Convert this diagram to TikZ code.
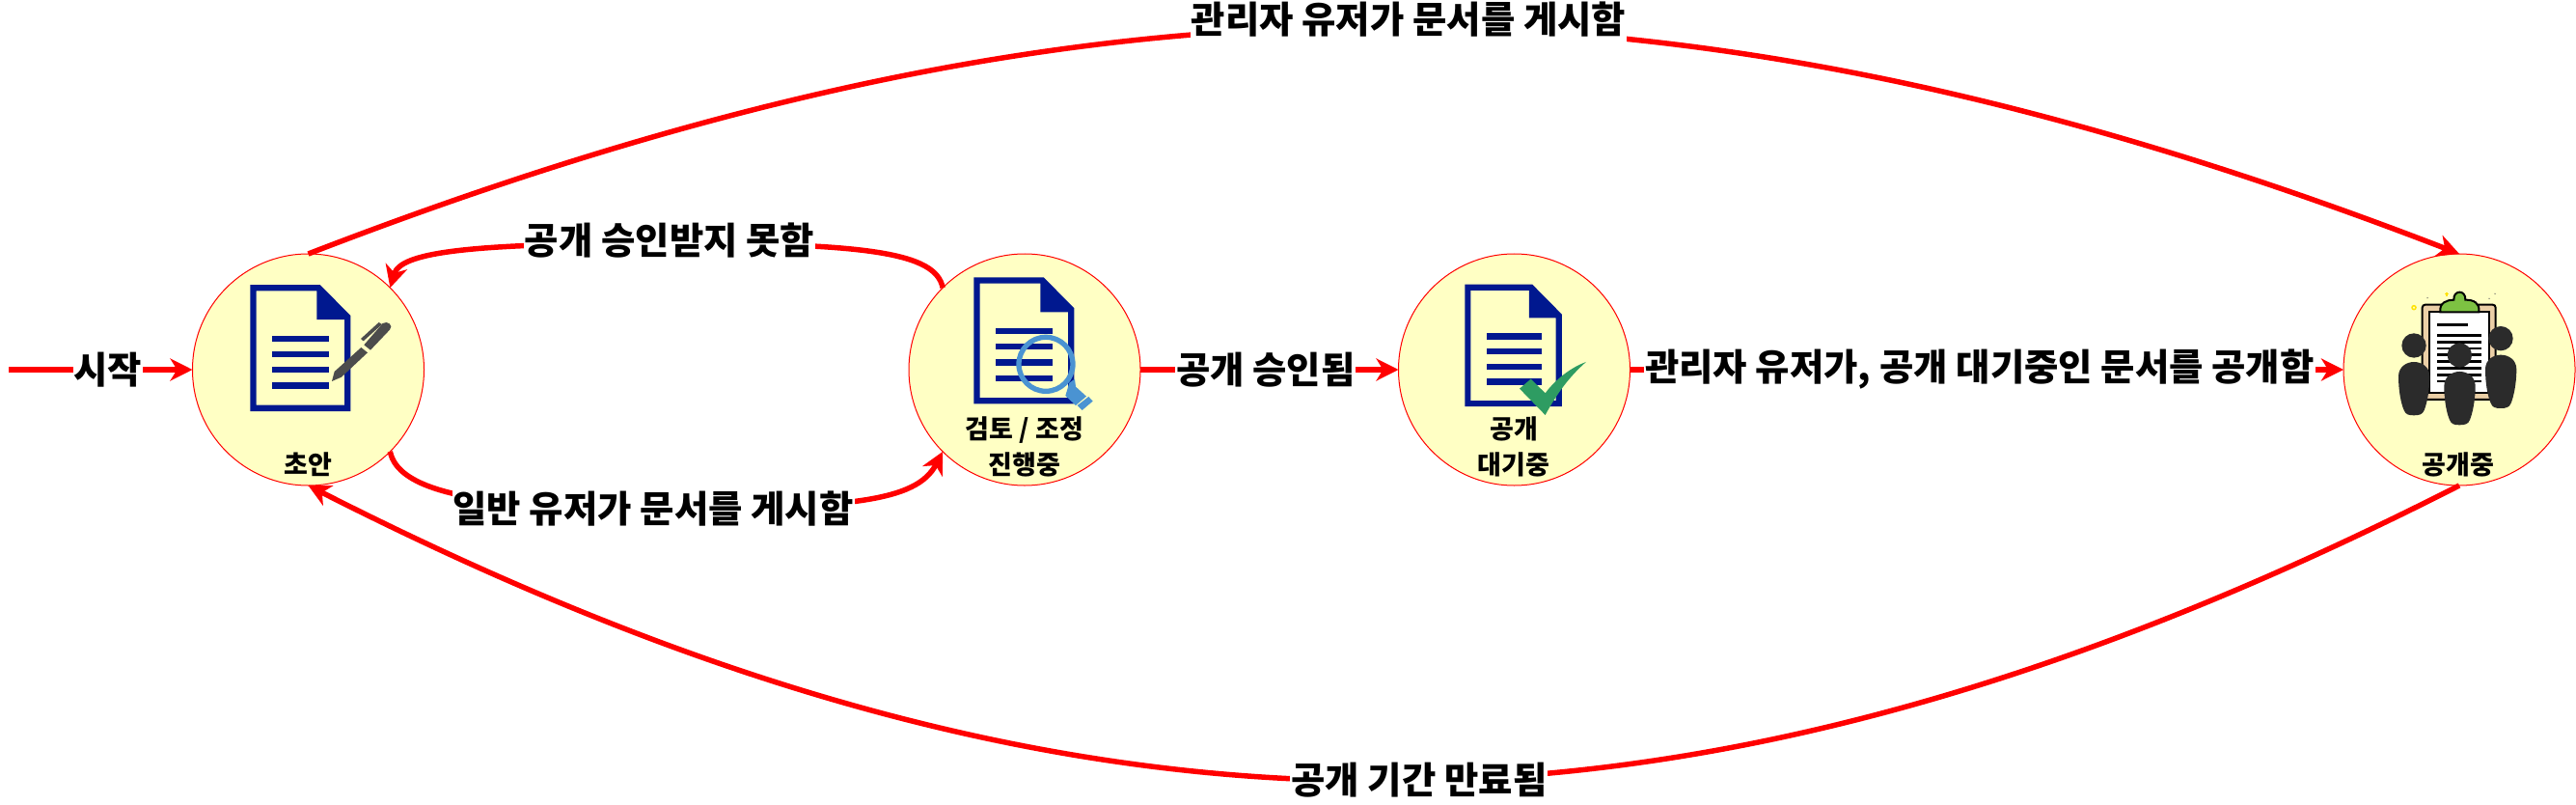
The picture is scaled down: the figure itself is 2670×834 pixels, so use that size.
\documentclass[tikz,border=0pt]{standalone}
\usepackage{fontspec}
\usetikzlibrary{arrows.meta,positioning}
\newfontfamily\krfont{Noto Sans CJK KR}
\definecolor{statefill}{HTML}{FFFFC4}
\definecolor{docblue}{HTML}{00188F}
\definecolor{lensblue}{HTML}{4A93D2}
\definecolor{checkgreen}{HTML}{2E9C62}
\definecolor{peoplegray}{HTML}{2B2B2B}
\definecolor{clipgreen}{HTML}{7DC242}
\definecolor{boardtan}{HTML}{EBCFA6}
\tikzset{
  state/.style={circle,draw=red,line width=1pt,fill=statefill,minimum size=240pt,inner sep=0pt,outer sep=0pt},
  flow/.style={red,line width=5.5pt,-{Stealth[length=23pt,width=23pt,inset=7pt]}},
  flowlabel/.style={fill=white,text=black,inner sep=1pt,font=\krfont\bfseries\fontsize{38.4}{44}\selectfont},
  statelabel/.style={align=center,inner sep=0pt,font=\krfont\bfseries\fontsize{27}{37}\selectfont},
  docicon/.pic={
    \fill[docblue,even odd rule] (0,0) -- (72.4,0) -- (104,32) -- (104,131) -- (0,131) -- cycle
      (6.3,6.3) -- (69,6.3) -- (69,36) -- (97.7,36) -- (97.7,124.7) -- (6.3,124.7) -- cycle;
    \foreach \y in {52.5,68.8,85,101.2} {\fill[docblue] (23,\y) rectangle (82,\y+6.3);}
  },
  person/.pic={
    \fill[peoplegray] (48,-51) circle (38);
    \fill[peoplegray] (0,45) .. controls (0,15) and (25,0) .. (48,0) .. controls (72,0) and (97,15) .. (97,45)
      .. controls (97,90) and (88,130) .. (80,150) .. controls (75,163) and (65,166) .. (48,166)
      .. controls (30,166) and (22,163) .. (17,150) .. controls (8,130) and (0,90) .. (0,45) -- cycle;
  }
}
\begin{document}
\begin{tikzpicture}[x=1pt,y=-1pt,>=Stealth]
  \useasboundingbox (0,0) rectangle (2670,834);
  \node[state] (draft) at (319.5,383) {};
  \node[state] (review) at (1062,383) {};
  \node[state] (waiting) at (1569.5,383) {};
  \node[state] (live) at (2549,383) {};
  \coordinate (begin) at (9,383);

  \pic at (259.3,295) {docicon};
  \pic at (1009.3,287.3) {docicon};
  \pic[scale=.966] at (1518.3,294.7) {docicon};

  \begin{scope}[shift={(180,250)},x=.3333pt,y=-.3333pt]
    \fill[gray!60!black] (492,435) -- (500,405) -- (583,330) -- (603,346) -- (522,422) -- cycle;
    \fill[gray!60!black] (592,322) -- (650,255) .. controls (665,245) and (685,262) .. (672,275) -- (612,338) -- cycle;
    \fill[gray!60!black] (582,303) -- (638,252) -- (648,258) -- (590,310) -- cycle;
  \end{scope}

  \begin{scope}[shift={(920,250)},x=.3333pt,y=-.3333pt]
    \draw[lensblue,line width=5.3pt] (492,382) circle (84);
    \fill[lensblue] (565,440) -- (582,428) -- (585,452) -- (618,482) -- (585,510) -- (553,480) -- cycle;
    \fill[lensblue] (590,510) -- (625,483) -- (638,497) -- (605,525) -- cycle;
  \end{scope}

  \begin{scope}[shift={(1430,250)},x=.3333pt,y=-.3333pt]
    \fill[checkgreen] (435,458) -- (470,428) -- (515,472) .. controls (550,425) and (600,390) .. (642,375)
      .. controls (590,420) and (550,475) .. (515,540) -- cycle;
  \end{scope}

  \begin{scope}[shift={(2400,250)},x=.3333pt,y=-.3333pt]
    \draw[black,fill=boardtan,line width=2pt,rounded corners=3pt] (332,197) rectangle (560,492);
    \draw[black,fill=white,line width=2pt] (355,218) rectangle (540,470);
    \fill[black] (378,256) rectangle (473,264);
    \foreach \y in {289,309,329,349,369,391,411,431} {\fill[black] (378,\y) rectangle (515,\y+8);}
    \draw[black,fill=clipgreen,line width=2pt] (388,220) .. controls (384,190) and (410,182) .. (430,182)
      .. controls (428,150) and (468,150) .. (466,182) .. controls (490,182) and (512,190) .. (508,220) -- cycle;
    \draw[yellow!85!orange,line width=1.5pt] (306,206) circle (6);
    \draw[yellow!85!orange,line width=1.5pt] (402,164) -- (415,164) (408,158) -- (408,171);
    \foreach \x/\y in {348/176,540/178,558/163} {\fill[gray!70!black] (\x,\y) circle (2);}
    \pic at (258,375) {person};
    \pic at (528,353) {person};
    \pic at (400,405) {person};
  \end{scope}

  \node[statelabel] (draftname) at (319,481) {초안};
  \node[statelabel] (reviewname) at (1062,463) {검토 / 조정\\진행중};
  \node[statelabel] (waitingname) at (1569,463) {공개\\대기중};
  \node[statelabel] (livename) at (2548,481) {공개중};

  \draw[flow] (begin) -- node[flowlabel,pos=.54] (startlabel) {시작} (draft.west);
  \draw[flow] (review.east) -- node[flowlabel,pos=.485] (approvedlabel) {공개 승인됨} (waiting.west);
  \draw[flow] (waiting.east) -- node[flowlabel,pos=.49] (publishlabel) {관리자 유저가, 공개 대기중인 문서를 공개함} (live.west);
  \draw[flow] (draft.north) .. controls (1130,-50) and (1739,-50) .. node[flowlabel,pos=.512,yshift=8.5pt,minimum height=64pt] (adminlabel) {관리자 유저가 문서를 게시함} (live.north);
  \draw[flow] (live.south) .. controls (1749,910) and (1120,910) .. node[flowlabel,pos=.483] (expirelabel) {공개 기간 만료됨} (draft.south);
  \draw[flow] (review.135) .. controls (970,262) and (900,252) .. (694,252) node[flowlabel,yshift=3pt] (rejectlabel) {공개 승인받지 못함}
    .. controls (480,252) and (415,262) .. (draft.45);
  \draw[flow] (draft.-45) .. controls (412,505) and (480,527) .. (677,527) node[flowlabel] (submitlabel) {일반 유저가 문서를 게시함}
    .. controls (880,527) and (950,520) .. (review.-135);
\end{tikzpicture}
\end{document}
